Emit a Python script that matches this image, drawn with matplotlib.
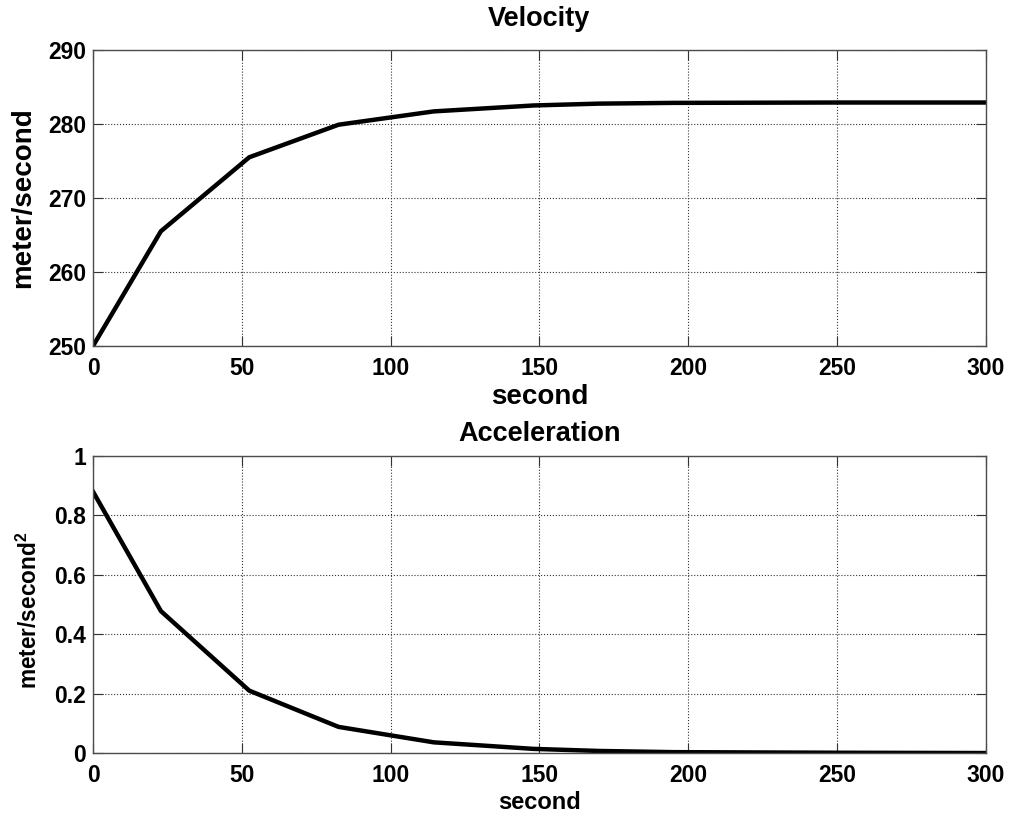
import matplotlib
matplotlib.use("Agg")
import matplotlib.pyplot as plt

# values
t = [0, 22.8, 52.5, 82.5, 114.5, 148, 170, 195, 250, 300]
velocity = [250.0, 265.5, 275.5, 279.9, 281.7, 282.5, 282.75, 282.85, 282.9, 282.9]
accel = [0.88, 0.478, 0.21, 0.088, 0.036, 0.014, 0.007, 0.003, 0.001, 0.0]

x_ticks = [0, 50, 100, 150, 200, 250, 300]
v_ticks = [250, 260, 270, 280, 290]
a_ticks = [0, 0.2, 0.4, 0.6, 0.8, 1]
a_tick_labels = ['0', '0.2', '0.4', '0.6', '0.8', '1']

plt.rcParams['font.family'] = ['Liberation Sans', 'DejaVu Sans']
plt.rcParams['font.weight'] = 'bold'
plt.rcParams['mathtext.fontset'] = 'custom'
plt.rcParams['mathtext.rm'] = 'Liberation Sans:bold'
plt.rcParams['mathtext.bf'] = 'Liberation Sans:bold'

fig = plt.figure(figsize=(10.1, 8.14), dpi=100)
ax1 = fig.add_axes([0.0921, 0.575, 0.884, 0.3636])
ax2 = fig.add_axes([0.0921, 0.0749, 0.884, 0.3649])


def style(ax, yticks, ylim):
    ax.set_xlim(0, 300)
    ax.set_ylim(*ylim)
    ax.set_xticks(x_ticks)
    ax.set_yticks(yticks)
    ax.grid(True, linestyle=':', color='0.2', linewidth=0.8)
    ax.tick_params(direction='in', length=7, width=0.8, top=True, right=True,
                   labelsize=16.5, color='0.2')
    ax.tick_params(axis='x', pad=8)
    ax.tick_params(axis='y', pad=5)
    for s in ax.spines.values():
        s.set_color('0.3')
        s.set_linewidth(1.0)


ax1.plot(t, velocity, color='black', linewidth=3.2)
style(ax1, v_ticks, (250, 290))
ax1.set_title('Velocity', fontsize=19.5, fontweight='bold', pad=17)
ax1.set_xlabel('second', fontsize=20, fontweight='bold', labelpad=3)
ax1.set_ylabel('meter/second', fontsize=20, fontweight='bold')
ax1.yaxis.set_label_coords(-0.064, 0.5)

ax2.plot(t, accel, color='black', linewidth=3.2)
style(ax2, a_ticks, (0, 1))
ax2.set_yticklabels(a_tick_labels)
ax2.set_title('Acceleration', fontsize=19.5, fontweight='bold', pad=11)
ax2.set_xlabel('second', fontsize=17, fontweight='bold', labelpad=3)
ax2.set_ylabel(r'meter/second$^{\mathbf{2}}$', fontsize=16.3, fontweight='bold')
ax2.yaxis.set_label_coords(-0.057, 0.48)

fig.savefig('out.png', dpi=100)
